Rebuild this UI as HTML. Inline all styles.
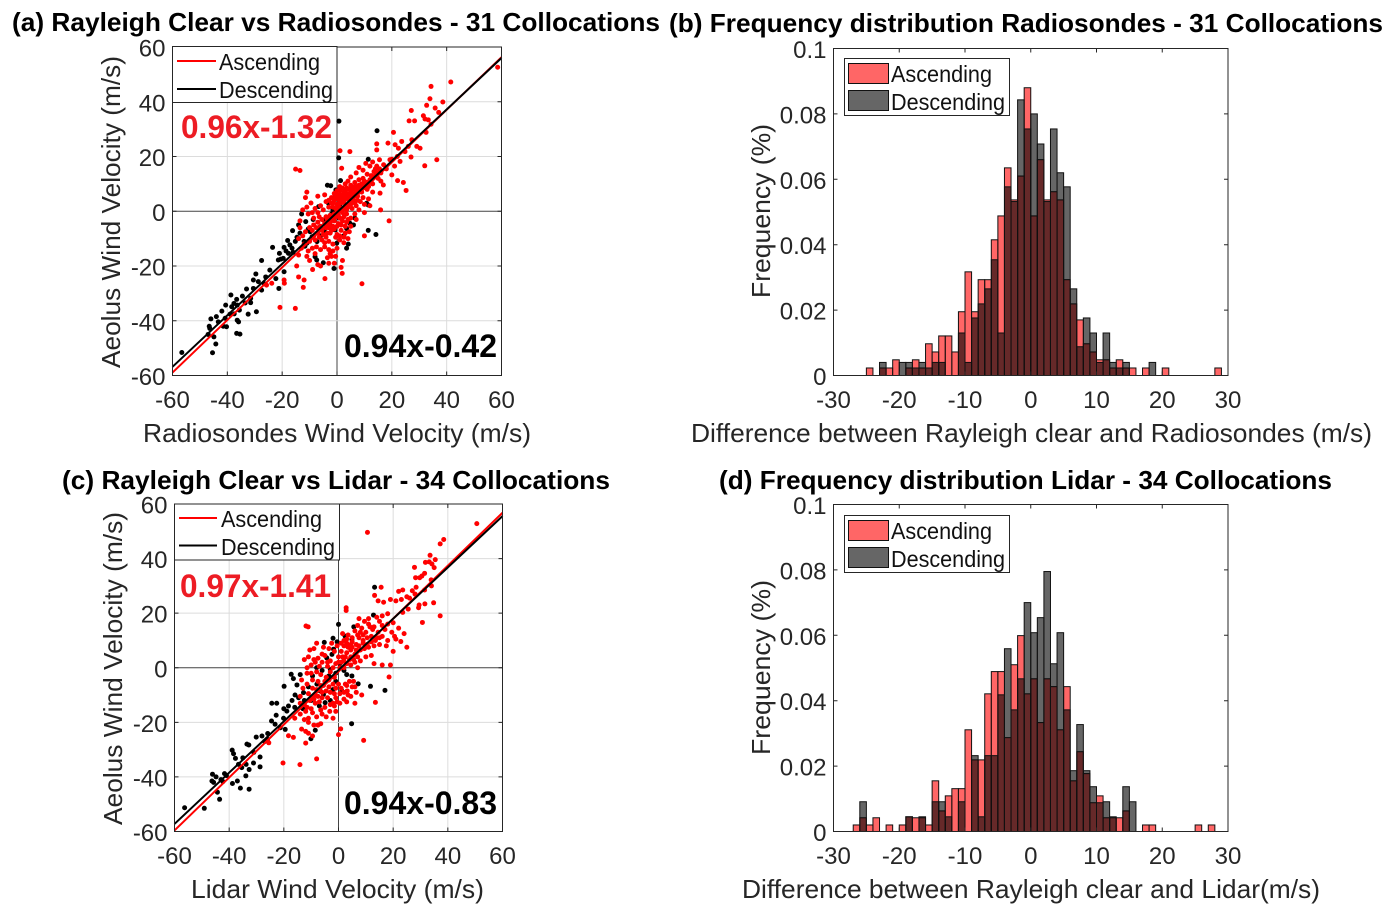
<!DOCTYPE html>
<html lang="en">
<head>
<meta charset="utf-8">
<title>Rayleigh Clear wind validation</title>
<style>
html,body{margin:0;padding:0;background:#fff;width:1395px;height:917px;overflow:hidden}
svg{display:block}
text{font-family:"Liberation Sans",Arial,sans-serif;fill:#262626}
.title{font-size:26px;font-weight:bold;fill:#000}
.label{font-size:26px}
.tick{font-size:24px}
.leg{font-size:23px;fill:#111}
.fit{font-size:32px;font-weight:bold}
</style>
</head>
<body>
<svg id="figure" width="1395" height="917" viewBox="0 0 1395 917" xmlns="http://www.w3.org/2000/svg">
  <g id="panel-a"></g>
  <g id="panel-b"></g>
  <g id="panel-c"></g>
  <g id="panel-d"></g>

  <text class="title" x="12" y="31" textLength="648" lengthAdjust="spacingAndGlyphs">(a) Rayleigh Clear vs Radiosondes - 31 Collocations</text>
  <text class="title" x="669" y="32" textLength="714" lengthAdjust="spacingAndGlyphs">(b) Frequency distribution Radiosondes - 31 Collocations</text>
  <text class="title" x="62" y="489" textLength="548" lengthAdjust="spacingAndGlyphs">(c) Rayleigh Clear vs Lidar - 34 Collocations</text>
  <text class="title" x="719" y="489" textLength="613" lengthAdjust="spacingAndGlyphs">(d) Frequency distribution Lidar - 34 Collocations</text>

  <text class="label" x="143" y="442" textLength="388" lengthAdjust="spacingAndGlyphs">Radiosondes Wind Velocity (m/s)</text>
  <text class="label" x="691" y="442" textLength="681" lengthAdjust="spacingAndGlyphs">Difference between Rayleigh clear and Radiosondes (m/s)</text>
  <text class="label" x="191" y="898" textLength="293" lengthAdjust="spacingAndGlyphs">Lidar Wind Velocity (m/s)</text>
  <text class="label" x="742" y="898" textLength="578" lengthAdjust="spacingAndGlyphs">Difference between Rayleigh clear and Lidar(m/s)</text>

  <text class="label" transform="translate(120,368) rotate(-90)" textLength="312" lengthAdjust="spacingAndGlyphs">Aeolus Wind Velocity (m/s)</text>
  <text class="label" transform="translate(770,298) rotate(-90)" textLength="174" lengthAdjust="spacingAndGlyphs">Frequency (%)</text>
  <text class="label" transform="translate(122,825) rotate(-90)" textLength="313" lengthAdjust="spacingAndGlyphs">Aeolus Wind Velocity (m/s)</text>
  <text class="label" transform="translate(770,755) rotate(-90)" textLength="175" lengthAdjust="spacingAndGlyphs">Frequency (%)</text>

  <g>
    <rect x="172.5" y="46.5" width="164.5" height="56" fill="#fff" stroke="#262626" stroke-width="1"/>
    <line x1="177" x2="216" y1="61" y2="61" stroke="#f00" stroke-width="2"/>
    <text class="leg" x="219" y="70" textLength="101" lengthAdjust="spacingAndGlyphs">Ascending</text>
    <line x1="177" x2="216" y1="89" y2="89" stroke="#000" stroke-width="2"/>
    <text class="leg" x="219" y="98" textLength="114" lengthAdjust="spacingAndGlyphs">Descending</text>
  </g>
  <g>
    <rect x="174.5" y="504" width="165" height="56" fill="#fff" stroke="#262626" stroke-width="1"/>
    <line x1="179" x2="217" y1="518" y2="518" stroke="#f00" stroke-width="2"/>
    <text class="leg" x="221" y="527" textLength="101" lengthAdjust="spacingAndGlyphs">Ascending</text>
    <line x1="179" x2="217" y1="545.5" y2="545.5" stroke="#000" stroke-width="2"/>
    <text class="leg" x="221" y="555" textLength="114" lengthAdjust="spacingAndGlyphs">Descending</text>
  </g>
  <g>
    <rect x="844.5" y="58.5" width="165" height="57" fill="#fff" stroke="#262626" stroke-width="1"/>
    <rect x="848.5" y="63.5" width="40" height="20" fill="#ff6666" stroke="#111" stroke-width="1"/>
    <text class="leg" x="891" y="82" textLength="101" lengthAdjust="spacingAndGlyphs">Ascending</text>
    <rect x="848.5" y="90.5" width="40" height="20" fill="#666" stroke="#111" stroke-width="1"/>
    <text class="leg" x="891" y="110" textLength="114" lengthAdjust="spacingAndGlyphs">Descending</text>
  </g>
  <g>
    <rect x="844.5" y="515.5" width="165" height="57" fill="#fff" stroke="#262626" stroke-width="1"/>
    <rect x="848.5" y="520.5" width="40" height="20" fill="#ff6666" stroke="#111" stroke-width="1"/>
    <text class="leg" x="891" y="539" textLength="101" lengthAdjust="spacingAndGlyphs">Ascending</text>
    <rect x="848.5" y="547.5" width="40" height="20" fill="#666" stroke="#111" stroke-width="1"/>
    <text class="leg" x="891" y="567" textLength="114" lengthAdjust="spacingAndGlyphs">Descending</text>
  </g>

  <text class="fit" style="fill:#ed1c24" x="181" y="138" textLength="151" lengthAdjust="spacingAndGlyphs">0.96x-1.32</text>
  <text class="fit" style="fill:#000" x="344" y="357" textLength="153" lengthAdjust="spacingAndGlyphs">0.94x-0.42</text>
  <text class="fit" style="fill:#ed1c24" x="180" y="597" textLength="151" lengthAdjust="spacingAndGlyphs">0.97x-1.41</text>
  <text class="fit" style="fill:#000" x="344" y="814" textLength="153" lengthAdjust="spacingAndGlyphs">0.94x-0.83</text>
</svg>

<script>
// ---- Chart data ----
const scatterTicks = [-60, -40, -20, 0, 20, 40, 60];
const scatterTickLabels = ['-60', '-40', '-20', '0', '20', '40', '60'];
const histXTicks = [-30, -20, -10, 0, 10, 20, 30];
const histXTickLabels = ['-30', '-20', '-10', '0', '10', '20', '30'];
const histYTicks = [0, 0.02, 0.04, 0.06, 0.08, 0.1];
const histYTickLabels = ['0', '0.02', '0.04', '0.06', '0.08', '0.1'];
const histFirstBin = -30;
const histBinWidth = 1;

const fitA = { ascending: [0.96, -1.32], descending: [0.94, -0.42] };
const fitC = { ascending: [0.97, -1.41], descending: [0.94, -0.83] };

// Frequency per 1 m/s bin, first bin starts at -30
const histBAscending = [0,0,0,0,0,.0023,0,.0023,.0023,.0048,0,.0023,.0048,.0023,.0097,.0072,.0121,.0121,.0072,.0195,.0317,.0195,.0293,.0293,.0415,.0488,.0635,.0537,.061,.088,.0488,.066,.0537,.0562,.0537,.0293,.0219,.017,.0097,.0072,.0048,.0048,.0023,.0048,.0023,.0023,0,.0023,0,0,.0023,0,0,0,0,0,0,0,.0023,0];
const histBDescending = [0,0,0,0,0,0,0,.004,0,0,.004,.004,.0023,.004,.0023,.004,.004,0,0,.013,.004,.0176,.0219,.0265,.0354,.013,.0577,.0532,.0843,.0754,.08,.0708,.0532,.0754,.062,.0577,.0265,.0088,.0176,.013,.004,.013,.004,.0023,.004,0,0,0,.004,0,0,0,0,0,0,0,0,0,0,0];
const histDAscending = [0,0,0,.002,.0042,.002,.0042,0,.002,0,.002,.0045,.0042,.0042,.002,.0155,.0063,.0109,.0131,.0131,.0311,.0219,.0219,.0421,.0489,.0489,.0287,.051,.0599,.0421,.0467,.0333,.0467,.0443,.0311,.0443,.0155,.0244,.0177,.0088,.0109,.0042,.0042,.0042,.0063,0,0,.002,.002,0,0,0,0,0,0,.002,0,.002,0,0];
const histDDescending = [0,0,0,0,.0091,0,0,0,0,0,0,.0045,0,.0045,0,.0091,.0091,.0045,0,.0091,0,.0232,.0045,.0232,.0232,.0418,.0559,.0372,.0467,.07,.0608,.0654,.0795,.0513,.0608,.0372,.0186,.0327,.0186,.0137,.0088,.0091,.0045,0,.0137,.0091,0,0,0,0,0,0,0,0,0,0,0,0,0,0];

// Scatter samples [radiosonde/lidar velocity, Aeolus velocity] in m/s
const scatterADescending = [[-56.6,-51.6],[-45.4,-51.7],[-44.2,-48.5],[-44.9,-45.9],[-46.4,-42.8],[-46.6,-42],[-46,-39.3],[-43.3,-40.4],[-41.5,-42],[-40.3,-42.2],[-40.8,-39.1],[-39,-37.6],[-40.6,-34.3],[-38.7,-30.6],[-38.4,-34.9],[-37.6,-33.7],[-36.6,-32.2],[-36.4,-34.3],[-35.6,-36.1],[-36.4,-39.8],[-35.9,-40.4],[-36.6,-44.6],[-35.4,-44.9],[-32.4,-37.6],[-29.4,-36.7],[-31.5,-33.4],[-31.5,-31.8],[-33,-28.4],[-30.5,-28.2],[-30.5,-25.1],[-29.6,-22.9],[-28.7,-25.7],[-27.5,-28.8],[-21.2,-28.2],[-19.3,-22.1],[-22.3,-24.6],[-27.5,-18],[-23.5,-13.2],[-21,-15.4],[-21.4,-17.8],[-19.6,-17.2],[-19.3,-13.2],[-17.2,-12.3],[-16.2,-7.1],[-12.9,-1],[-11.4,-3.8],[-13.5,-8],[-14.6,-9.5],[-15.2,-11],[-16.4,-13.5],[-17.7,-15.4],[-11,-11.7],[-8,-16.6],[-7.4,-17.8],[-5,-18.8],[-1.1,-20.9],[-0.1,-11.7],[4.1,-12],[3.5,-13.5],[11.4,-7],[14.2,-8.5],[0.7,32.9],[14.6,29.4],[0.6,19.5],[11.4,19],[-3.5,9.5],[-2.3,9.3],[1.3,11.2],[-0.4,7.8],[-1.3,4.8],[-3.1,2.9],[-6.7,1.7],[-10.3,-6.8],[-9.1,-9.3],[-7.3,-11.1],[-5,-3.2],[-2.6,-5],[-0.7,-6.8],[3.5,-6.3],[4.7,-4.4],[10.8,2.9],[11.4,2.3],[2.1,5.3],[1.1,1.7],[-18,-10.7],[-20.5,-17.5],[-24.5,-21.5],[-26,-24],[-14,-5],[-10.5,-6.5],[-8.7,-3],[-6,-9],[-4.5,-7.5],[-3,-2.5],[-1.5,0.5],[0.8,-2.5],[-12,-11],[-16,-15],[-18.6,-14.5],[-26.5,-26.5],[-33.5,-33.5],[-34.5,-31],[-37.5,-37.5],[-42,-36.5],[-44,-38.5],[-47,-45],[-11.7,-12.8],[-9.8,-7.5],[-6.5,-6],[-2,-1],[2.5,-9],[6,-5],[6.5,-2.5]];
const scatterAAscending = [[58.6,52.6],[41.5,47.2],[34.3,45.6],[38.6,39.9],[33.9,41.1],[32.7,38.7],[35.8,37.7],[37.1,36.1],[27.1,36.8],[31.5,34.9],[32.1,33.7],[33.3,33.4],[34.3,31.8],[26.3,33],[28.3,33],[32.5,28.8],[20.6,28.8],[14.5,24.6],[14.5,22.4],[18.6,24.9],[21.2,24.3],[23.6,25.5],[27.3,26.1],[26,23.7],[22.4,23],[29.1,23.7],[30.3,23],[24.8,21.8],[27,19.8],[36.4,18.8],[32,16.6],[23,18.2],[19.3,18.8],[15.5,18.8],[1.1,22.1],[4.7,21.8],[-15.1,15.4],[-13.5,14.9],[1.7,15.7],[25.2,7.6],[24.2,10.5],[22.1,11.2],[20,13.3],[15.7,6.6],[16.9,9.6],[15.9,0.5],[19,-3.5],[10,-9],[9.1,-26.5],[1.9,-22.7],[1.5,-20.5],[-4.4,-24.6],[-8.9,-21.3],[-12,-25.1],[-14,-24],[-14.7,-20],[-12.3,-27.8],[-19.3,-25.1],[-19.2,-26.3],[-20.8,-35.1],[-15.2,-35.5],[-25.7,-27],[-23.8,-26.3],[-11,7],[-11.5,5],[-9.5,3],[-7,5.5],[-6,2],[-12.5,0.5],[-10.5,-1],[-8.5,-2.5],[-7,-0.5],[-5,0.5],[-3,1.5],[-1.5,3],[-0.5,5],[1,6],[2.5,7],[3.5,8.5],[5,9.5],[6.5,10.5],[8,11.5],[9.5,12],[11,13.5],[12.5,13],[14,15.5],[15,12],[16,11],[13,10],[11,8],[9,7],[7.5,5.5],[6,4],[4.5,3],[3,2],[1.5,1],[0,0.5],[1,3.5],[2,4.5],[3,5.5],[4,6],[5,7],[6,8],[7,9],[8,9.5],[9,10],[10,11],[11,10.5],[12,11.5],[13,12.5],[14,13],[7,14],[8,16],[9.5,15],[10.5,17.5],[12,16.5],[13,18],[14.5,16.5],[16,14],[18,15.5],[17,17],[20,19],[21,16.5],[22,20],[5,12.5],[4,11],[3,10],[2,8.5],[1,9],[0,7.5],[-1,6.5],[-2,5],[-3,4],[-4,3.5],[5.5,1],[7,2],[8.5,3.5],[9.5,5],[10,2.5],[8,0.5],[6.5,-1],[5,-2.5],[3.5,-1],[2,-0.5],[0.5,-1.5],[-1,-1],[-2.5,-1.5],[-4,-2],[-5.5,-3],[-7,-4],[-8.5,-5],[-10,-6],[-11.5,-7.5],[-12.5,-9],[-13.5,-6],[-14,-10],[-12,-12],[-10,-11],[-8.5,-9],[-7,-8],[-5.5,-7],[-4,-6],[-2.5,-4],[-1,-3.5],[0.5,-4.5],[2,-3.5],[3.5,-4],[5,-5.5],[4.5,-7.5],[3,-8],[1.5,-7],[0,-8.5],[-1,-6.5],[-2.5,-8],[-4,-9.5],[-5.5,-10.5],[-3,-11],[-1.5,-12],[0,-13.5],[-1.5,-14.5],[-3,-14],[-4.5,-13],[-2.5,-15.5],[-0.5,-16.5],[-6,-14],[-7.5,-13],[-9,-13.5],[-10.5,-14.5],[-8,-15.5],[-3.5,-17],[-2,-16.5],[2.5,-11.5],[4,-10],[1,-10.5],[-13.5,-3.5],[-9,-0.5],[-6.5,-2],[-11,1.5],[-8,1],[-4.5,6],[-3,-6],[7,-3],[10,-0.5],[11.5,4.5],[13,7],[12,2],[-14,-16],[-10,-18],[-7,-19.5],[-11,-16.5],[-13,-13.5],[-6,-20],[-1,-19],[2,-18],[-3,-19],
[0.5,2],[1.5,3],[2.5,3.5],[3.5,4.5],[4.5,5],[5.5,6],[6.5,6.5],[7.5,7.5],[8.5,8.5],[0.5,4.5],[1.5,5],[2.5,5.5],[3.5,6.5],[4.5,8],[5.5,8.5],[6.5,9],[1,7.5],[2,6],[3,7.5],[0,2.5],[-0.5,1],[-1.5,1.5],[-2,3],[-1,4],[0,6],[4,1.5],[5,2.5],[6.5,3],[7.5,4],[2.5,1],[3.5,0.5],[-4.5,-4.5],[-3.5,-3],[-2,-2.5],[-0.5,-2],[1,-2.5],[2.5,-2],[4,-3],[-3,-5],[-1.5,-5.5],[0,-5.5],[1.5,-5],[3,-5.5],[-6,-5.5],[-7.5,-6],[-9,-7],[-5,-8.5],[-3.5,-8],[-2,-7],[-0.5,-9.5],[1,-9],[2.5,-9.5],[-6.5,-9.5],[-8,-10.5],[-4.5,-11.5],[9.5,8.5],[10.5,9.5],[11.5,9],[12.5,10.5],[15,14],[13.5,14.5],[15.5,15.5]];

const scatterCDescending = [[-56.3,-51.3],[-49.1,-51.5],[-43.5,-48.2],[-44.3,-45.6],[-46.1,-39],[-44.8,-40],[-46.3,-41.5],[-45.7,-42],[-42.3,-41.7],[-41.7,-38.8],[-38.8,-42.4],[-37,-41.5],[-35.9,-44.1],[-32.7,-44.5],[-33.9,-39.6],[-35.4,-36.6],[-36.6,-35.4],[-33.8,-35.4],[-31.1,-34.9],[-28.7,-36.3],[-32.7,-37.3],[-28.7,-32.7],[-38.9,-30.2],[-38.4,-31.5],[-37.7,-33.2],[-33.5,-28],[-32.8,-28.3],[-30.1,-25.4],[-28,-25],[-25.9,-24.1],[-26,-26.2],[-24.5,-19.5],[-23.2,-20.7],[-21.3,-22],[-19.5,-22.6],[-22.8,-17.4],[-20.1,-18.5],[-24.4,-13],[-22.6,-13],[-18.3,-14],[-18.9,-15.9],[-19.9,-6.8],[-17.3,-2.4],[-16.5,-4],[-15.2,-6.3],[-15.9,-10],[-14.6,-11],[-12.8,-9.1],[-14,-2.5],[-5.2,9.3],[0,15.9],[5.6,15],[13.2,29.5],[12.8,19.3],[11.7,-6.8],[17,-8.3],[7.2,-5.9],[4.8,-20.5],[-8.5,-22.9],[-10.1,-26],[2.4,11.6],[4.9,10.4],[-1.8,6.8],[-2.4,4.9],[-4.3,3.6],[1.8,3.7],[-3,-0.6],[-5.5,-9.8],[-4.9,-12.8],[-7.9,-6],[-6.7,-8.5],[4.9,-3],[1.2,-8.5],[-3.5,-3],[-1,-2],[0.5,1.5],[-9.5,-3],[-11,-7],[-12.5,-12],[-17,-12],[-16,-14.5],[-13,-15],[-20,-15],[-27,-27],[-31,-31],[-35,-33],[-41,-39.5],[-43,-41],[-10,-12],[-7,-14],[-3,-12],[-2,-8],[-1,-5],[2,-1],[3,-2.5],[-6,-1],[-8,0],[3.5,8],[-0.5,9.5],[-2,10.8]];
const scatterCAscending = [[10.6,49.6],[50.6,52.8],[38.5,47],[37.2,45.4],[33.5,41.2],[35.4,39.6],[31.8,38.6],[33.2,38.8],[34.2,38],[35,36.7],[27.8,36.8],[30.5,33.6],[31.5,34.6],[28.2,33],[29.7,33],[33.9,32.2],[28.4,29.5],[15.6,29.5],[13.2,26.5],[22,28],[23.5,28.5],[27,28.2],[31.5,28.5],[34,30],[25,26],[28,27],[19,25],[14.5,24.5],[16.5,24],[21,24.5],[23,25],[26,25.5],[34.8,23.8],[29.5,23],[31.6,23.4],[29.3,22],[25.5,21.5],[23.5,20.3],[30.7,16.6],[37.2,19],[18,19.8],[16,19],[14,18.5],[11,18],[7.5,18],[9.5,17],[2.8,22],[2.8,21],[-11.9,15.3],[-11.1,15],[22.8,9.6],[25,7.5],[20.5,11.5],[19.5,13],[17,14],[21,10.5],[17.5,8],[20,6],[19,1],[16,1],[13,1.5],[18.5,-3.4],[13.5,-12.7],[9.2,-26.6],[0.8,-22.4],[0,-24.5],[-8,-33.4],[-14.1,-35.5],[-20.3,-34.9],[-12,-27.6],[-16.5,-25.5],[-18.3,-24.9],[-13.5,-22.5],[-12,-23.3],[-11,-24],[-9.5,-25],[-7.5,-21],[-6.5,-20.5],[-12.5,-19],[-11,-18.5],[-14,-17],[-16,-18.5],[-25.5,-27.5],[-10,-15],[-8.5,-13],[-6.5,-15.5],[-3.2,-16],[-1,-16],[-0.5,-12.5],[2,-11.5],[4.5,-10.5],[6,-13],[8.5,-10],[3.2,-8.5],[1,-7.5],[3,-6.5],[5,-7],[6.5,-9],[2.5,-6],[5.5,-5],[-4,-11],[-2,-13],[-6,-11],[-8.5,-10],[-10.5,-12],[-12.5,-13.5],[-14,-10.5],[-13,-7.5],[-11.5,-6],[-9.5,-7.5],[-7.5,-5],[-5.5,-6.5],[-3.5,-7],[-1.5,-9.5],[0,-6],[-1.5,-3.5],[-3,-1.5],[-4.5,-3.5],[-6.5,-2.5],[-8,-1.5],[-9.5,-4.5],[-11.5,-2],[-10,1],[-11.5,0],[-12.5,3],[-11,4],[-9,3],[-7.5,3.5],[-6,2],[-5,4.5],[-9,7],[-10.5,6.5],[-8,9],[-5.5,7.5],[-3.5,7],[-1.5,6],[0,4],[1,2],[2,0],[0.5,0],[-1,1.5],[-3,2.5],[-4,0.5],[3,1.5],[4.5,1],[6,2],[8,2.5],[10,4],[12,4.5],[7,0],[4,3],[2.5,4],[1,6],[-0.5,8],[1,9],[3,10.5],[4.5,6.5],[6,5],[8,6.5],[9.5,7],[11,7.5],[13,8],[15,8.5],[6.5,8.5],[5,9.5],[3.5,12],[1.5,12.5],[2,8],[-2.5,9],[7.5,11],[9,10],[10.5,11],[12,11.5],[14,11],[16,11.5],[18,10],[8,13],[10,13],[11.5,15],[13,15],[14.5,13],[16,15.5],[18,16],[20,16.5],[6,13.5],[5,11],[7,15.5],[8.5,14.5],[11,16],[12.5,14],[15,17],[22,14.5],[24,12.5],[-7,-8],[-3,-9],[-1,-11],[0.5,-13],[3,-12.5],[-13.5,-4.5],[-6,-17],[-4.5,-18],[-8,-18],[-2,-18.5],[-9,-21],[-11,-20],[-12,-16],
[0,2],[1.5,4],[3,5.5],[4.5,4],[5.5,3],[7,4],[2,2.5],[3.5,7.5],[5,7.5],[6.5,6.5],[7.5,8],[9,9],[10.5,8.5],[12,9.5],[13.5,10],[15,11],[3,9],[4.5,8.5],[2,10],[7,12],[9,12],[-2,-6],[-3.5,-4.5],[-5,-5],[-6.5,-6.5],[-8,-8],[-1,-7.5],[0.5,-9.5],[2,-9],[3.5,-10],[-4.5,-8.5],[-6,-9],[-7.5,-10.5],[-9,-11.5],[-11,-9.5],[-3,-13.5],[-5,-14.5],[-1.5,-14],[6,-7],[4,-5],[-10,-2],[-7,0.5],[-8.5,2],[-6,5],[-4,2],[-2,0],[-7,-12.5],[-9.5,-16.5],[-11.5,-14.5],[-14,-13]];

// ---- Rendering ----
const SVGNS = 'http://www.w3.org/2000/svg';
function node(parent, tag, attrs) {
  const el = document.createElementNS(SVGNS, tag);
  for (const key in attrs) el.setAttribute(key, attrs[key]);
  parent.appendChild(el);
  return el;
}
function linearScale(d0, d1, p0, p1) {
  return v => p0 + (v - d0) / (d1 - d0) * (p1 - p0);
}

function drawFrame(root, box, xScale, yScale, xTicks, xLabels, yTicks, yLabels, grid, id) {
  const bg = node(root, 'rect', {x: box.l, y: box.t, width: box.r - box.l, height: box.b - box.t, fill: '#fff'});
  
  
  xTicks.forEach((t, i) => {
    const x = xScale(t);
    if (grid && i > 0 && i < xTicks.length - 1) {
      const g = node(root, 'line', {x1: x, x2: x, y1: box.t, y2: box.b, stroke: t === 0 ? '#444' : '#dcdcdc', 'stroke-width': 1});
      
      
    }
    const label = node(root, 'text', {class: 'tick', x: x, y: box.b + 32.5, 'text-anchor': 'middle'});
    
    
    label.textContent = xLabels[i];
  });
  yTicks.forEach((t, i) => {
    const y = yScale(t);
    if (grid && i > 0 && i < yTicks.length - 1) {
      const g = node(root, 'line', {x1: box.l, x2: box.r, y1: y, y2: y, stroke: t === 0 ? '#444' : '#dcdcdc', 'stroke-width': 1});
      
      
    }
    const label = node(root, 'text', {class: 'tick', x: box.l - 7, y: y + 9.5, 'text-anchor': 'end'});
    
    
    label.textContent = yLabels[i];
  });
}
function drawBorder(root, box, xScale, yScale, xTicks, yTicks) {
  const len = 4;
  xTicks.forEach(t => {
    const x = xScale(t);
    const a = node(root, 'path', {d: `M${x} ${box.b}V${box.b - len}M${x} ${box.t}V${box.t + len}`, stroke: '#262626', 'stroke-width': 1, fill: 'none'});
    
    
  });
  yTicks.forEach(t => {
    const y = yScale(t);
    const a = node(root, 'path', {d: `M${box.l} ${y}H${box.l + len}M${box.r} ${y}H${box.r - len}`, stroke: '#262626', 'stroke-width': 1, fill: 'none'});
    
    
  });
  const frame = node(root, 'rect', {x: box.l, y: box.t, width: box.r - box.l, height: box.b - box.t, fill: 'none', stroke: '#262626', 'stroke-width': 1});
  
  
}

function drawScatter(rootId, box, descending, ascending, fit) {
  const root = document.getElementById(rootId);
  const x = linearScale(-60, 60, box.l, box.r);
  const y = linearScale(-60, 60, box.b, box.t);
  drawFrame(root, box, x, y, scatterTicks, scatterTickLabels, scatterTicks, scatterTickLabels, true);
  descending.forEach(p => {
    const c = node(root, 'circle', {cx: x(p[0]), cy: y(p[1]), r: 2.5, fill: '#000'});
    
    
  });
  ascending.forEach(p => {
    const c = node(root, 'circle', {cx: x(p[0]), cy: y(p[1]), r: 2.5, fill: '#f00'});
    
    
  });
  const red = node(root, 'line', {x1: x(-60), x2: x(60), y1: y(fit.ascending[0] * -60 + fit.ascending[1]), y2: y(fit.ascending[0] * 60 + fit.ascending[1]), stroke: '#f00', 'stroke-width': 2});
  
  
  const black = node(root, 'line', {x1: x(-60), x2: x(60), y1: y(fit.descending[0] * -60 + fit.descending[1]), y2: y(fit.descending[0] * 60 + fit.descending[1]), stroke: '#000', 'stroke-width': 2});
  
  
  drawBorder(root, box, x, y, scatterTicks, scatterTicks);
}

function drawHistogram(rootId, box, ascending, descending) {
  const root = document.getElementById(rootId);
  const x = linearScale(-30, 30, box.l, box.r);
  const y = linearScale(0, 0.1, box.b, box.t);
  drawFrame(root, box, x, y, histXTicks, histXTickLabels, histYTicks, histYTickLabels, false);
  ascending.forEach((v, i) => {
    if (!v) return;
    const left = histFirstBin + i * histBinWidth;
    const bar = node(root, 'rect', {x: x(left), y: y(v), width: x(left + histBinWidth) - x(left), height: y(0) - y(v), fill: '#ff0000', 'fill-opacity': 0.6, stroke: '#111', 'stroke-width': 1});
    
    
  });
  descending.forEach((v, i) => {
    if (!v) return;
    const left = histFirstBin + i * histBinWidth;
    const bar = node(root, 'rect', {x: x(left), y: y(v), width: x(left + histBinWidth) - x(left), height: y(0) - y(v), fill: '#000', 'fill-opacity': 0.6, stroke: '#111', 'stroke-width': 1});
    
    
  });
  drawBorder(root, box, x, y, histXTicks, histYTicks);
}

drawScatter('panel-a', {l: 172.5, r: 501.5, t: 47, b: 375.5}, scatterADescending, scatterAAscending, fitA);
drawHistogram('panel-b', {l: 833.5, r: 1228, t: 48.5, b: 375.5}, histBAscending, histBDescending);
drawScatter('panel-c', {l: 174.5, r: 502.5, t: 504, b: 831.5}, scatterCDescending, scatterCAscending, fitC);
drawHistogram('panel-d', {l: 833.5, r: 1228, t: 504.5, b: 831.5}, histDAscending, histDDescending);
</script>
</body>
</html>
